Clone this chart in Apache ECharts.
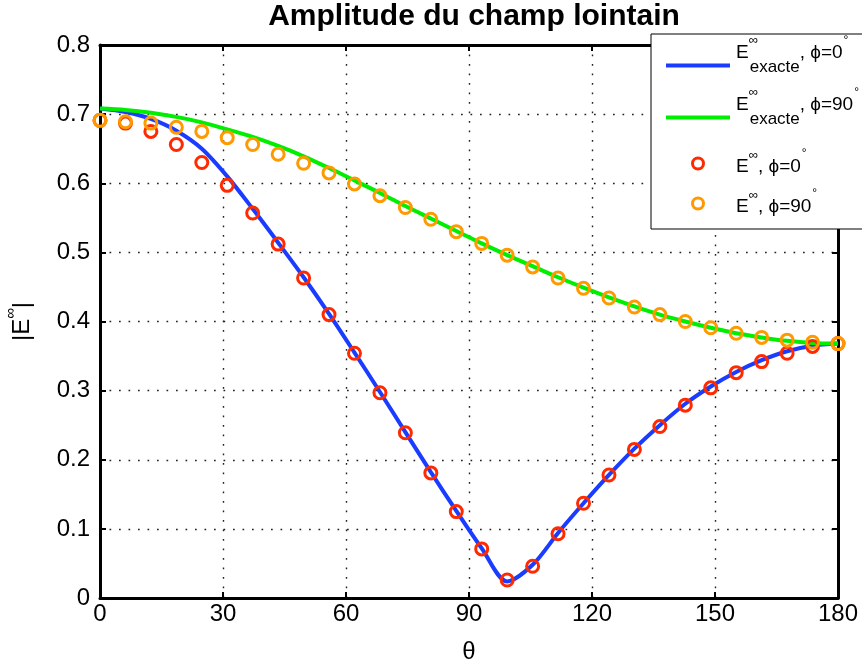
<!DOCTYPE html>
<html><head><meta charset="utf-8">
<script src="https://cdn.jsdelivr.net/npm/echarts@6.0.0/dist/echarts.min.js"></script>
<style>html,body{margin:0;padding:0;background:#fff}#c{width:862px;height:668px}</style>
</head><body><div id="c"></div>
<script>
// observation angles (degrees)
const theta = [0, 6.21, 12.41, 18.62, 24.83, 31.03, 37.24, 43.45, 49.66, 55.86, 62.07, 68.28, 74.48, 80.69, 86.90,
  93.10, 99.31, 105.52, 111.72, 117.93, 124.14, 130.34, 136.55, 142.76, 148.97, 155.17, 161.38, 167.59, 173.79, 180];
// exact far field, phi = 0
const exact0 = [0.708, 0.703, 0.693, 0.676, 0.650, 0.610, 0.563, 0.514, 0.464, 0.411, 0.355, 0.298, 0.240, 0.182, 0.126,
  0.072, 0.024, 0.048, 0.094, 0.137, 0.178, 0.216, 0.250, 0.281, 0.306, 0.327, 0.344, 0.357, 0.365, 0.368];
// exact far field, phi = 90
const exact90 = [0.708, 0.706, 0.702, 0.696, 0.688, 0.678, 0.667, 0.654, 0.639, 0.622, 0.604, 0.586, 0.567, 0.549, 0.531,
  0.513, 0.496, 0.480, 0.464, 0.449, 0.435, 0.422, 0.410, 0.400, 0.391, 0.383, 0.377, 0.372, 0.369, 0.368];
// computed far field, phi = 0
const num0 = [0.691, 0.687, 0.675, 0.656, 0.630, 0.597, 0.557, 0.512, 0.463, 0.410, 0.354, 0.297, 0.239, 0.181, 0.125,
  0.071, 0.026, 0.046, 0.093, 0.137, 0.178, 0.215, 0.248, 0.279, 0.304, 0.326, 0.342, 0.354, 0.364, 0.368];
// computed far field, phi = 90
const num90 = [0.691, 0.689, 0.687, 0.681, 0.675, 0.666, 0.656, 0.642, 0.629, 0.615, 0.599, 0.582, 0.565, 0.548, 0.530,
  0.513, 0.496, 0.479, 0.463, 0.448, 0.434, 0.421, 0.410, 0.400, 0.391, 0.383, 0.377, 0.373, 0.370, 0.368];
const xTickLabels = ['0', '30', '60', '90', '120', '150', '180'];
const yTickLabels = ['0', '0.1', '0.2', '0.3', '0.4', '0.5', '0.6', '0.7', '0.8'];

const BLUE = '#1a3cff', GREEN = '#00ee00', RED = '#ff2a00', ORANGE = '#ff9900';
const FONT = '"Liberation Sans", Arial, Helvetica, sans-serif';
const N1 = 'E∞ exacte, ϕ=0°', N2 = 'E∞ exacte, ϕ=90°', N3 = 'E∞, ϕ=0°', N4 = 'E∞, ϕ=90°';
const legendText = {};
legendText[N1] = '{sa| }{e|E}{i|∞}{x|exacte}{e|, ϕ=0}{d|°}';
legendText[N2] = '{sa| }{e|E}{i|∞}{x|exacte}{e|, ϕ=90}{d|°}';
legendText[N3] = '{sb| }{f|E}{j|∞}{f|, ϕ=0}{k|°}';
legendText[N4] = '{sb| }{f|E}{j|∞}{f|, ϕ=90}{k|°}';

const pairs = ys => theta.map((t, i) => [t, ys[i]]);
const axisLine = {show: true, onZero: false, lineStyle: {color: '#000', width: 3}};
const axisTick = {show: true, inside: true, length: 6, lineStyle: {color: '#000', width: 2}};
const gridLine = {show: true, lineStyle: {color: '#222', width: 1.4, type: [1.7, 7.8]}};
const T = (o) => Object.assign({fontFamily: FONT, color: '#000', height: 2, verticalAlign: 'top'}, o);

const chart = echarts.init(document.getElementById('c'), null, {renderer: 'canvas'});
chart.setOption({
  animation: false,
  backgroundColor: '#fff',
  title: {
    text: 'Amplitude du champ lointain', left: 469, top: -3, textAlign: 'center',
    textStyle: {fontFamily: FONT, fontSize: 30, fontWeight: 'bold', color: '#000'}
  },
  grid: {left: 100, right: 24, top: 45, bottom: 70, containLabel: false, outerBoundsMode: 'none'},
  xAxis: [{
    type: 'value', min: 0, max: 180, interval: 30, position: 'bottom',
    axisLine: axisLine, axisTick: axisTick, splitLine: gridLine,
    axisLabel: {color: '#000', fontSize: 24, fontFamily: FONT, margin: 4,
      formatter: v => xTickLabels[Math.round(v / 30)]},
    name: 'θ', nameLocation: 'middle', nameGap: 42,
    nameTextStyle: {color: '#000', fontSize: 24, fontFamily: FONT}
  }, {
    type: 'value', min: 0, max: 180, interval: 30, position: 'top',
    axisLine: axisLine, axisTick: axisTick, axisLabel: {show: false}, splitLine: {show: false}
  }],
  yAxis: [{
    type: 'value', min: 0, max: 0.8, interval: 0.1, position: 'left',
    axisLine: axisLine, axisTick: axisTick, splitLine: gridLine,
    axisLabel: {color: '#000', fontSize: 24, fontFamily: FONT, margin: 10,
      formatter: v => yTickLabels[Math.round(v * 10)]},
    name: '|E{s|∞}|', nameLocation: 'middle', nameGap: 66, nameRotate: 90,
    nameTextStyle: {color: '#000', fontSize: 24, fontFamily: FONT,
      rich: {s: {fontSize: 15, fontFamily: FONT, color: '#000', height: 2, verticalAlign: 'top'}}}
  }, {
    type: 'value', min: 0, max: 0.8, interval: 0.1, position: 'right',
    axisLine: axisLine, axisTick: axisTick, axisLabel: {show: false}, splitLine: {show: false}
  }],
  legend: {
    orient: 'vertical', left: 651, top: 34, itemWidth: 64, itemHeight: 11, itemGap: -11,
    padding: [0, 60, 0, 13], backgroundColor: '#fff', borderColor: '#000', borderWidth: 1,
    selectedMode: false, symbolKeepAspect: true,
    lineStyle: {width: 4},
    data: [
      {name: N1, itemStyle: {opacity: 0, borderWidth: 0}},
      {name: N2, itemStyle: {opacity: 0, borderWidth: 0}},
      {name: N3, icon: 'circle', itemStyle: {borderWidth: 3}},
      {name: N4, icon: 'circle', itemStyle: {borderWidth: 3}}
    ],
    formatter: name => legendText[name],
    textStyle: {
      color: '#000', fontFamily: FONT,
      rich: {
        sa: {fontSize: 63, fontFamily: FONT, height: 2, width: 1, verticalAlign: 'middle'},
        sb: {fontSize: 51, fontFamily: FONT, height: 2, width: 1, verticalAlign: 'middle'},
        e: T({fontSize: 19, padding: [12.5, 0, 0, 0]}),
        i: T({fontSize: 13, width: 1}),
        x: T({fontSize: 17, padding: [26.5, 0, 23.5, 0]}),
        d: T({fontSize: 12, padding: [0, 0, 0, 1]}),
        f: T({fontSize: 19, padding: [22.5, 0, 15.5, 0]}),
        j: T({fontSize: 13, padding: [10.5, 0, 0, 0]}),
        k: T({fontSize: 12, padding: [8.8, 0, 0, 1]})
      }
    }
  },
  series: [
    {name: N1, type: 'line', data: pairs(exact0), symbol: 'none', smooth: 0.3,
      lineStyle: {color: BLUE, width: 4}, itemStyle: {color: BLUE}, z: 2, silent: true},
    {name: N2, type: 'line', data: pairs(exact90), symbol: 'none', smooth: 0.3,
      lineStyle: {color: GREEN, width: 4}, itemStyle: {color: GREEN}, z: 2, silent: true},
    {name: N3, type: 'scatter', data: pairs(num0), symbol: 'circle', symbolSize: 12, clip: false,
      itemStyle: {color: 'rgba(255,255,255,0)', borderColor: RED, borderWidth: 3, opacity: 1}, z: 3, silent: true},
    {name: N4, type: 'scatter', data: pairs(num90), symbol: 'circle', symbolSize: 12, clip: false,
      itemStyle: {color: 'rgba(255,255,255,0)', borderColor: ORANGE, borderWidth: 3, opacity: 1}, z: 4, silent: true}
  ]
});
</script>
</body></html>
